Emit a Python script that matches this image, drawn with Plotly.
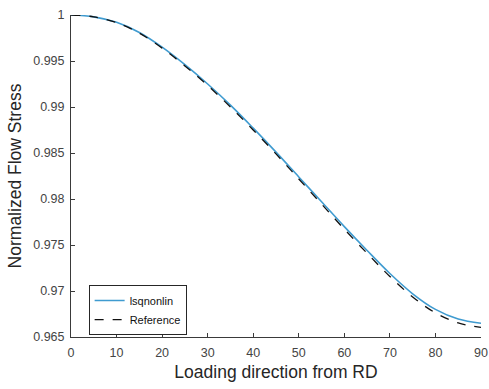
import plotly.graph_objects as go

angles = [0, 5, 10, 15, 20, 25, 30, 35, 40, 45, 50, 55, 60, 65, 70, 75, 80, 85, 90]
lsqnonlin = [1.0, 0.9998, 0.9992, 0.9981, 0.9965, 0.9946, 0.9925, 0.9902, 0.9877,
             0.9851, 0.9824, 0.9797, 0.9770, 0.9744, 0.9719, 0.9697, 0.9680,
             0.96695, 0.9665]
reference = [1.0, 0.9998, 0.99917, 0.99803, 0.9964, 0.99447, 0.99234, 0.99001,
             0.9875, 0.9849, 0.98218, 0.97945, 0.97672, 0.9741, 0.97158,
             0.96935, 0.96762, 0.96653, 0.96605]

x_ticks = [0, 10, 20, 30, 40, 50, 60, 70, 80, 90]
y_ticks = [0.965, 0.97, 0.975, 0.98, 0.985, 0.99, 0.995, 1.0]
y_tick_labels = ["0.965", "0.97", "0.975", "0.98", "0.985", "0.99", "0.995", "1"]

axis_color = "#3a3a3a"
font_family = "Liberation Sans, Arial, Helvetica, sans-serif"

fig = go.Figure()
fig.add_trace(go.Scatter(x=angles, y=lsqnonlin, mode="lines", name="lsqnonlin",
                         line=dict(color="#3f9bd0", width=1.6, shape="spline", smoothing=1.0)))
fig.add_trace(go.Scatter(x=angles, y=reference, mode="lines", name="Reference",
                         line=dict(color="#111111", width=1.3, dash="dash", shape="spline", smoothing=1.0)))

fig.update_layout(
    width=489, height=389,
    margin=dict(l=71, r=8, t=15, b=52),
    paper_bgcolor="white", plot_bgcolor="white",
    font=dict(family=font_family, color=axis_color, size=12),
    legend=dict(x=0.043, y=0.006, xanchor="left", yanchor="bottom",
                bgcolor="white", bordercolor="#262626", borderwidth=1,
                font=dict(size=11, color="#111111"),
                tracegroupgap=0, itemwidth=30),
    showlegend=True,
)
fig.update_xaxes(range=[0, 90], tickvals=x_ticks, ticks="inside", ticklen=4,
                 tickcolor=axis_color, showline=True, linecolor=axis_color, linewidth=1,
                 showgrid=False, zeroline=False, automargin=False,
                 ticklabelstandoff=4,
                 title=dict(text="Loading direction from RD", font=dict(size=17.5, color="#262626"), standoff=6),
                 tickfont=dict(size=12.5, color="#444444"))
fig.update_yaxes(range=[0.965, 1.0], tickvals=y_ticks, ticktext=y_tick_labels,
                 ticks="inside", ticklen=4, tickcolor=axis_color,
                 showline=True, linecolor=axis_color, linewidth=1,
                 showgrid=False, zeroline=False, automargin=False,
                 ticklabelstandoff=3,
                 title=dict(text="Normalized Flow Stress", font=dict(size=17.5, color="#262626"), standoff=7),
                 tickfont=dict(size=12.5, color="#444444"))

fig.write_html("out.html", config={"displayModeBar": False},
               post_script="document.body.style.margin='0';")
